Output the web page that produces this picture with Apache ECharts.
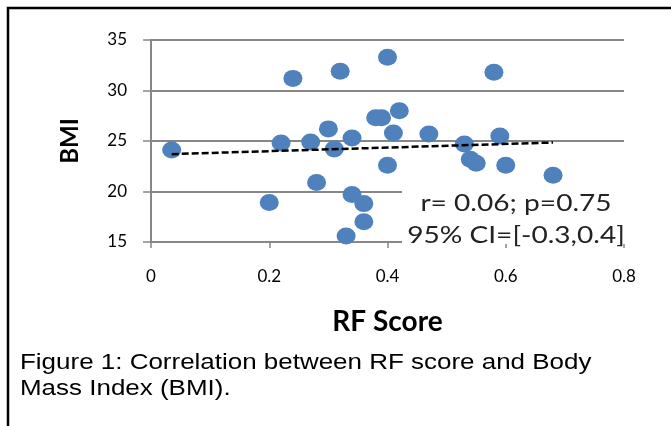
<!DOCTYPE html>
<html>
<head>
<meta charset="utf-8">
<script src="https://cdn.jsdelivr.net/npm/echarts@6/dist/echarts.min.js"></script>
<style>
html,body{margin:0;padding:0;background:#fff;}
#c{width:671px;height:426px;}
</style>
</head>
<body>
<div id="c"></div>
<script>
// RF score vs BMI
const rfScore = [0.035, 0.20, 0.22, 0.24, 0.27, 0.28, 0.30, 0.31, 0.32, 0.33, 0.34, 0.34, 0.36, 0.36, 0.38, 0.39, 0.40, 0.40, 0.41, 0.42, 0.47, 0.53, 0.54, 0.55, 0.58, 0.59, 0.60, 0.68];
const bmi     = [24.1, 18.9, 24.8, 31.2, 24.9, 20.9, 26.2, 24.2, 31.9, 15.6, 25.3, 19.7, 18.8, 17.0, 27.3, 27.3, 33.3, 22.6, 25.8, 28.0, 25.7, 24.7, 23.2, 22.8, 31.8, 25.5, 22.6, 21.6];
const trendX  = [0.035, 0.68];
const trendY  = [23.7, 24.85];
const xTicks  = [0, 0.2, 0.4, 0.6, 0.8];
const yTicks  = [15, 20, 25, 30, 35];
const statLines = ['r= 0.06; p=0.75', '95% CI=[-0.3,0.4]'];
const captionLines = ['Figure 1: Correlation between RF score and Body', 'Mass Index (BMI).'];

const chart = echarts.init(document.getElementById('c'), null, {renderer: 'canvas'});
const pts = rfScore.map((x, i) => [x, bmi[i]]);
const trend = trendX.map((x, i) => [x, trendY[i]]);
const gray = '#878787';

chart.setOption({
  animation: false,
  backgroundColor: '#fff',
  grid: {left: 151, right: 47, top: 40, bottom: 184, containLabel: false},
  xAxis: {
    type: 'value', min: xTicks[0], max: xTicks[xTicks.length - 1], interval: 0.2,
    name: 'RF Score', nameLocation: 'middle', nameGap: 66,
    nameTextStyle: {fontFamily: 'Lato', fontWeight: 'bold', fontSize: 28, color: '#000'},
    axisLine: {show: true, lineStyle: {color: gray, width: 2}},
    axisTick: {show: true, length: 6, lineStyle: {color: gray, width: 1.5}},
    axisLabel: {margin: 26, fontFamily: 'Lato', fontSize: 17, color: '#000',
      formatter: v => String(Math.round(v * 10) / 10)},
    splitLine: {show: false}
  },
  yAxis: {
    type: 'value', min: yTicks[0], max: yTicks[yTicks.length - 1], interval: 5,
    name: 'BMI', nameLocation: 'middle', nameGap: 69, nameRotate: 90,
    nameTextStyle: {fontFamily: 'Lato', fontWeight: 'bold', fontSize: 24, color: '#000'},
    axisLine: {show: true, lineStyle: {color: gray, width: 2}},
    axisTick: {show: true, length: 8, lineStyle: {color: gray, width: 1.5}},
    axisLabel: {margin: 24, fontFamily: 'Lato', fontSize: 17, color: '#000'},
    splitLine: {show: true, lineStyle: {color: gray, width: 2}}
  },
  series: [
    {
      type: 'scatter', data: pts, symbol: 'circle', symbolSize: [19, 17],
      itemStyle: {color: '#4F81BD', opacity: 1}, z: 2
    },
    {
      type: 'line', data: trend, symbol: 'none', z: 3,
      lineStyle: {color: '#000', width: 2.5, type: [7, 3]}
    }
  ],
  graphic: [
    {type: 'rect', shape: {x: 8, y: 8, width: 700, height: 450}, style: {fill: 'none', stroke: '#000', lineWidth: 2.5}, z: 0, silent: true},
    {type: 'rect', shape: {x: 402, y: 185, width: 228, height: 59}, style: {fill: '#fff'}, z: 100, silent: true},
    {type: 'text', x: 516, y: 203, scaleX: 1.17, style: {text: statLines[0], font: '24px Lato', fill: '#222', align: 'center', verticalAlign: 'middle'}, z: 101},
    {type: 'text', x: 516, y: 235, scaleX: 1.17, style: {text: statLines[1], font: '24px Lato', fill: '#222', align: 'center', verticalAlign: 'middle'}, z: 101},
    {type: 'text', x: 20, y: 363, scaleX: 1.18, style: {text: captionLines[0], font: '22px "Liberation Sans"', fill: '#000', align: 'left', verticalAlign: 'middle'}, z: 101},
    {type: 'text', x: 20, y: 389, scaleX: 1.18, style: {text: captionLines[1], font: '22px "Liberation Sans"', fill: '#000', align: 'left', verticalAlign: 'middle'}, z: 101}
  ]
});
</script>
</body>
</html>
